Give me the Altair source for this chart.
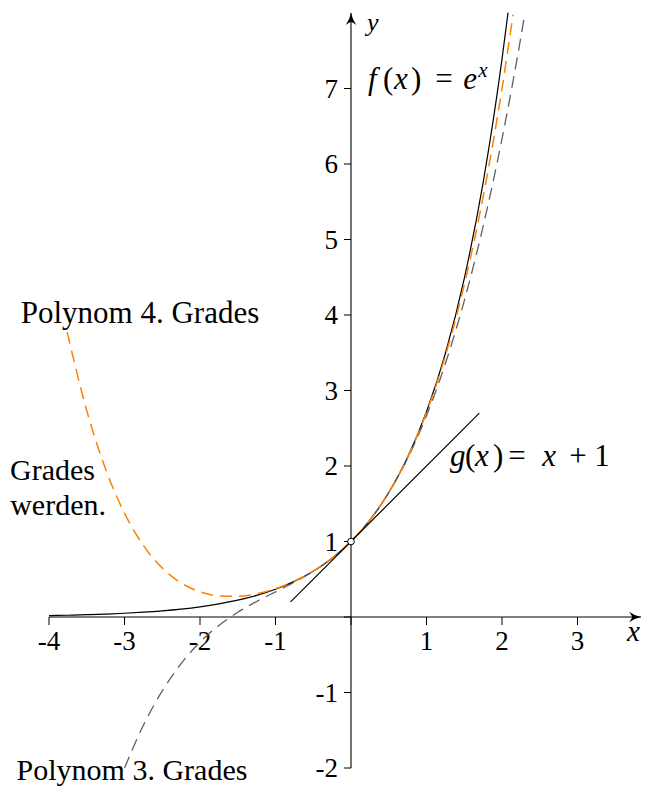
import altair as alt
import pandas as pd

# ---------------- data ----------------
EXP_X = [-4.0, -3.75, -3.5, -3.25, -3.0, -2.75, -2.5, -2.25, -2.0, -1.75, -1.5, -1.25,
         -1.0, -0.75, -0.5, -0.25, 0.0, 0.25, 0.5, 0.75, 1.0, 1.25, 1.5, 1.75, 2.0, 2.08]
EXP_Y = [0.0183, 0.0235, 0.0302, 0.0388, 0.0498, 0.0639, 0.0821, 0.1054, 0.1353, 0.1738,
         0.2231, 0.2865, 0.3679, 0.4724, 0.6065, 0.7788, 1.0, 1.2840, 1.6487, 2.1170,
         2.7183, 3.4903, 4.4817, 5.7546, 7.3891, 8.0045]

P4_X = [-3.76, -3.5, -3.25, -3.0, -2.75, -2.5, -2.25, -2.0, -1.75, -1.5, -1.25, -1.0,
        -0.75, -0.5, -0.25, 0.0, 0.25, 0.5, 0.75, 1.0, 1.25, 1.5, 1.75, 2.0, 2.146]
P4_Y = [3.777, 2.7318, 1.9585, 1.375, 0.9482, 0.6484, 0.4508, 0.3333, 0.2789, 0.2734,
        0.3075, 0.375, 0.4741, 0.6068, 0.7788, 1.0, 1.2840, 1.6484, 2.1148, 2.7083,
        3.4585, 4.3984, 5.5653, 7.0, 7.9795]

P3_X = [-3.0, -2.75, -2.5, -2.25, -2.0, -1.75, -1.5, -1.25, -1.0, -0.75, -0.5, -0.25,
        0.0, 0.25, 0.5, 0.75, 1.0, 1.25, 1.5, 1.75, 2.0, 2.25, 2.3]
P3_Y = [-2.0, -1.4349, -0.9792, -0.6172, -0.3333, -0.1120, 0.0625, 0.2057, 0.3333,
        0.4609, 0.6042, 0.7786, 1.0, 1.2839, 1.6458, 2.1016, 2.6667, 3.3568, 4.1875,
        5.1745, 6.3333, 7.6797, 7.973]

TAN_X = [-0.8, 1.7]
TAN_Y = [0.2, 2.7]

POINT_X = [0.0]
POINT_Y = [1.0]

X_TICKS = [-4, -3, -2, -1, 0, 1, 2, 3]
X_TICK_LABELS = ["-4", "-3", "-2", "-1", "", "1", "2", "3"]
Y_TICKS = [-2, -1, 0, 1, 2, 3, 4, 5, 6, 7]
Y_TICK_LABELS = ["-2", "-1", "", "1", "2", "3", "4", "5", "6", "7"]

# ---------------- geometry ----------------
PX = 75.5            # pixels per unit
W, H = 634, 780
X0_PAGE, Y0_PAGE = 351, 617   # page position of the origin
XMIN = -(X0_PAGE - 8) / PX
XMAX = XMIN + W / PX
YMAX = (Y0_PAGE - 8) / PX
YMIN = YMAX - H / PX


def p2x(px):
    return (px - X0_PAGE) / PX


def p2y(py):
    return (Y0_PAGE - py) / PX


FONT = "Liberation Serif"
ORANGE = "#ff8000"
GRAY = "#606060"

XS = alt.Scale(domain=[XMIN, XMAX], nice=False, zero=False)
YS = alt.Scale(domain=[YMIN, YMAX], nice=False, zero=False)


def X(f="x"):
    return alt.X(f"{f}:Q", scale=XS, axis=None)


def Y(f="y"):
    return alt.Y(f"{f}:Q", scale=YS, axis=None)


layers = []

# axes lines
x_end = p2x(641)
y_end = p2y(13)
axes_df = pd.DataFrame({"x": [X_TICKS[0], 0.0], "x2": [x_end, 0.0],
                        "y": [0.0, Y_TICKS[0]], "y2": [0.0, y_end]})
layers.append(alt.Chart(axes_df).mark_rule(color="black", strokeWidth=1.1).encode(
    x=X(), x2="x2:Q", y=Y(), y2="y2:Q"))

# ticks
tick_len_x = 8 / PX
tick_len_y = 7 / PX
xt = pd.DataFrame({"x": X_TICKS, "lab": X_TICK_LABELS})
xt["y"] = 0.0
xt["y2"] = -tick_len_x
layers.append(alt.Chart(xt).mark_rule(color="black", strokeWidth=1).encode(
    x=X(), y=Y(), y2="y2:Q"))
yt = pd.DataFrame({"y": Y_TICKS, "lab": Y_TICK_LABELS})
yt["x"] = 0.0
yt["x2"] = -tick_len_y
layers.append(alt.Chart(yt).mark_rule(color="black", strokeWidth=1).encode(
    x=X(), x2="x2:Q", y=Y()))

# tick labels
xt_lab = xt[xt["lab"] != ""].copy()
xt_lab["ly"] = p2y(650)
layers.append(alt.Chart(xt_lab).mark_text(font=FONT, fontSize=27, align="center",
                                          baseline="alphabetic", color="black").encode(
    x=X(), y=Y("ly"), text="lab:N"))
yt_lab = yt[yt["lab"] != ""].copy()
yt_lab["lx"] = p2x(338)
layers.append(alt.Chart(yt_lab).mark_text(font=FONT, fontSize=27, align="right",
                                          baseline="middle", dy=1, color="black").encode(
    x=X("lx"), y=Y(), text="lab:N"))

# curves
exp_df = pd.DataFrame({"x": EXP_X, "y": EXP_Y})
p4_df = pd.DataFrame({"x": P4_X, "y": P4_Y})
p3_df = pd.DataFrame({"x": P3_X, "y": P3_Y})
tan_df = pd.DataFrame({"x": TAN_X, "y": TAN_Y})

layers.append(alt.Chart(exp_df).mark_line(color="black", strokeWidth=1.2,
                                          interpolate="monotone", clip=True).encode(x=X(), y=Y()))
layers.append(alt.Chart(p3_df).mark_line(color=GRAY, strokeWidth=1.3, strokeDash=[12, 7],
                                         interpolate="monotone", clip=True).encode(x=X(), y=Y()))
layers.append(alt.Chart(p4_df).mark_line(color=ORANGE, strokeWidth=1.5, strokeDash=[12, 7],
                                         interpolate="monotone", clip=True).encode(x=X(), y=Y()))
layers.append(alt.Chart(tan_df).mark_line(color="black", strokeWidth=1.2).encode(x=X(), y=Y()))

# open point at (0, 1)
pt_df = pd.DataFrame({"x": POINT_X, "y": POINT_Y})
layers.append(alt.Chart(pt_df).mark_point(shape="circle", size=45, filled=True, fill="white",
                                          stroke="black", strokeWidth=1, opacity=1).encode(x=X(), y=Y()))

# arrow heads
UP = "M0,0 Q0.2,0.9 0.7,1.6 Q0.2,1.2 0,1.2 Q-0.2,1.2 -0.7,1.6 Q-0.2,0.9 0,0 Z"
RIGHT = "M0,0 Q-0.9,0.2 -1.6,0.7 Q-1.2,0.2 -1.2,0 Q-1.2,-0.2 -1.6,-0.7 Q-0.9,-0.2 0,0 Z"
layers.append(alt.Chart(pd.DataFrame({"x": [0.0], "y": [y_end]})).mark_point(
    shape=UP, size=225, filled=True, color="black", opacity=1).encode(x=X(), y=Y()))
layers.append(alt.Chart(pd.DataFrame({"x": [x_end], "y": [0.0]})).mark_point(
    shape=RIGHT, size=225, filled=True, color="black", opacity=1).encode(x=X(), y=Y()))


# text annotations
def txt(s, x, y, size=31, italic=False, align="left", baseline="alphabetic"):
    d = pd.DataFrame({"x": [x], "y": [y], "t": [s]})
    return alt.Chart(d).mark_text(font=FONT, fontSize=size,
                                  fontStyle="italic" if italic else "normal",
                                  align=align, baseline=baseline, color="black").encode(
        x=X(), y=Y(), text="t:N")


layers += [
    txt("Polynom 4. Grades", p2x(140), p2y(323), align="center"),
    txt("Grades", p2x(10), p2y(480), size=30, align="left"),
    txt("werden.", p2x(106), p2y(515), size=30, align="right"),
    txt("Polynom 3. Grades", p2x(132), p2y(780), size=30, align="center"),
    # f(x) = e^x
    txt("f", p2x(368), p2y(89), italic=True),
    txt("(", p2x(383), p2y(89)),
    txt("x", p2x(394), p2y(89), italic=True),
    txt(")", p2x(411), p2y(89)),
    txt("=", p2x(444), p2y(89), align="center"),
    txt("e", p2x(470), p2y(89), italic=True, align="center"),
    txt("x", p2x(483), p2y(77), size=21, italic=True, align="center"),
    # g(x) = x + 1
    txt("g", p2x(450), p2y(466), italic=True),
    txt("(", p2x(465), p2y(466)),
    txt("x", p2x(475), p2y(466), italic=True),
    txt(")", p2x(493), p2y(466)),
    txt("=", p2x(517), p2y(466), align="center"),
    txt("x", p2x(549), p2y(466), italic=True, align="center"),
    txt("+", p2x(578), p2y(466), align="center"),
    txt("1", p2x(602), p2y(466), align="center"),
    # axis names
    txt("y", p2x(367), p2y(31), size=26, italic=True),
    txt("x", p2x(627), p2y(641), size=29, italic=True),
]

chart = alt.layer(*layers).properties(
    width=W, height=H, padding=0, autosize="none", background="white"
).configure_view(stroke=None)

chart.save("out.html", embed_options={"renderer": "svg", "actions": False})
